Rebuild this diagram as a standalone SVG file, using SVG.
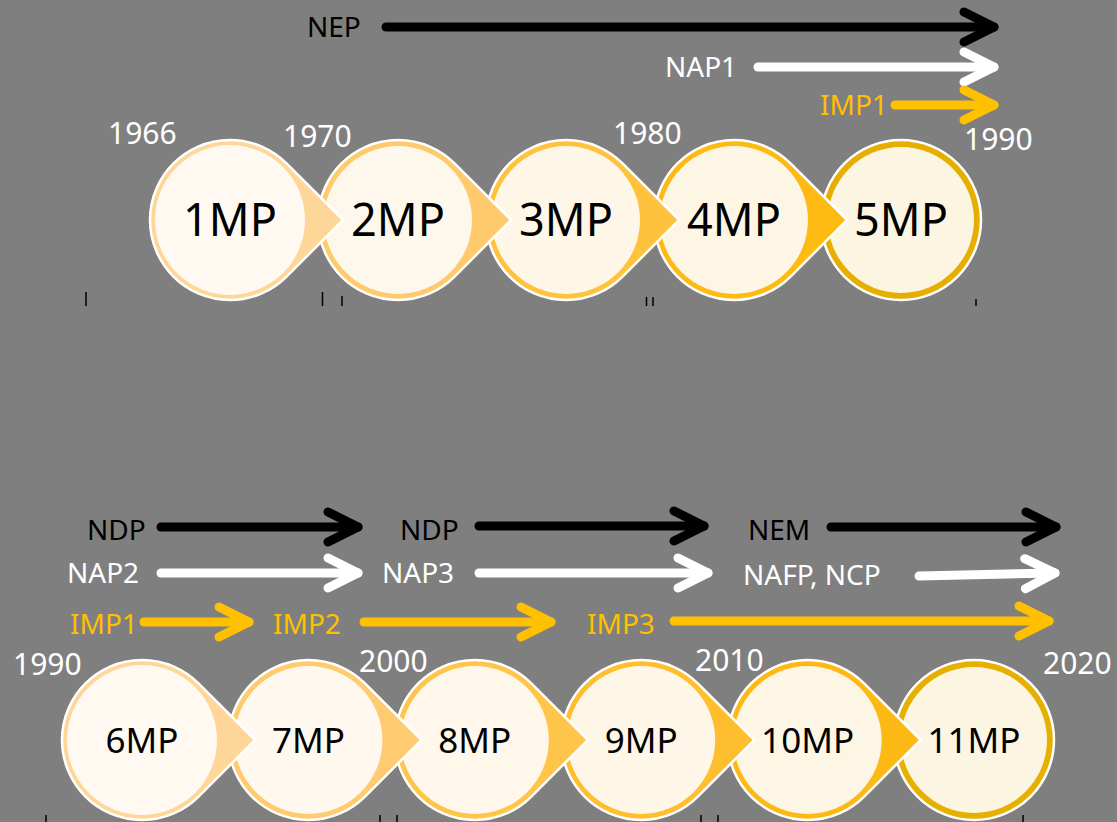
<svg xmlns="http://www.w3.org/2000/svg" xmlns:xlink="http://www.w3.org/1999/xlink" width="1117" height="822" viewBox="0 0 1117 822">
<style>
.tear{stroke:#FFFFFF;stroke-width:2.5;stroke-linejoin:miter}
.mp{font-family:"Noto Sans","Open Sans",sans-serif;fill:#000;text-anchor:middle}
.big{font-size:45px}
.small{font-size:35px}
.yr{font-family:"Noto Sans","Open Sans",sans-serif;font-size:30px;fill:#FFFFFF}
.lbl{font-family:"Noto Sans","Open Sans",sans-serif;font-size:28px}
.k{fill:#000}
.w{fill:#FFFFFF}
.y{fill:#FFC000}
.ar{fill:none;stroke-width:9;stroke-linecap:round;stroke-linejoin:round}
.tick{stroke:#000;stroke-width:1.5}
</style>
<defs>
<path id="tear" d="M 113.14 0 L 56.57 -56.57 A 80 80 0 1 0 56.57 56.57 Z"/>
<circle id="round" cx="0" cy="0" r="80"/>
<marker id="hk" markerUnits="userSpaceOnUse" markerWidth="50" markerHeight="50" refX="40" refY="25" orient="auto"><path d="M10 10 L40 25 L10 40" fill="none" stroke="#000" stroke-width="9" stroke-linecap="round" stroke-linejoin="round"/></marker>
<marker id="hw" markerUnits="userSpaceOnUse" markerWidth="50" markerHeight="50" refX="40" refY="25" orient="auto"><path d="M10 10 L40 25 L10 40" fill="none" stroke="#FFF" stroke-width="9" stroke-linecap="round" stroke-linejoin="round"/></marker>
<marker id="hy" markerUnits="userSpaceOnUse" markerWidth="50" markerHeight="50" refX="40" refY="25" orient="auto"><path d="M10 10 L40 25 L10 40" fill="none" stroke="#FFC000" stroke-width="9" stroke-linecap="round" stroke-linejoin="round"/></marker>
</defs>
<rect width="1117" height="822" fill="#7F7F7F"/>

<!-- top row: drawn right to left so pointers overlap the next circle -->
<g id="n5MP" transform="translate(901,220)"><use xlink:href="#round" class="tear" fill="#E5AE00"/><circle r="73" fill="#FBF5E2"/><text class="mp big" y="16">5MP</text></g>
<g id="n4MP" transform="translate(734,220)"><use xlink:href="#tear" class="tear" fill="#FDBA12"/><circle r="74" fill="#FDF6E4"/><text class="mp big" y="16">4MP</text></g>
<g id="n3MP" transform="translate(566,220)"><use xlink:href="#tear" class="tear" fill="#FFC23D"/><circle r="74" fill="#FEF7E8"/><text class="mp big" y="16">3MP</text></g>
<g id="n2MP" transform="translate(398,220)"><use xlink:href="#tear" class="tear" fill="#FFCA6C"/><circle r="74" fill="#FEF7EC"/><text class="mp big" y="16">2MP</text></g>
<g id="n1MP" transform="translate(230,220)"><use xlink:href="#tear" class="tear" fill="#FED798"/><circle r="75" fill="#FFF9F2"/><text class="mp big" y="16">1MP</text></g>

<!-- bottom row -->
<g id="n11MP" transform="translate(974,740)"><use xlink:href="#round" class="tear" fill="#E6B000"/><circle r="73" fill="#FBF5E2"/><text class="mp small" y="12.5">11MP</text></g>
<g id="n10MP" transform="translate(807.6,740)"><use xlink:href="#tear" class="tear" fill="#FDB913"/><circle r="74" fill="#FDF6E4"/><text class="mp small" y="12.5">10MP</text></g>
<g id="n9MP" transform="translate(641.2,740)"><use xlink:href="#tear" class="tear" fill="#FEBE2E"/><circle r="74" fill="#FEF7E7"/><text class="mp small" y="12.5">9MP</text></g>
<g id="n8MP" transform="translate(474.8,740)"><use xlink:href="#tear" class="tear" fill="#FFC44A"/><circle r="74" fill="#FEF7EA"/><text class="mp small" y="12.5">8MP</text></g>
<g id="n7MP" transform="translate(308.4,740)"><use xlink:href="#tear" class="tear" fill="#FFCB70"/><circle r="74" fill="#FEF8EE"/><text class="mp small" y="12.5">7MP</text></g>
<g id="n6MP" transform="translate(142,740)"><use xlink:href="#tear" class="tear" fill="#FED798"/><circle r="75" fill="#FFF9F2"/><text class="mp small" y="12.5">6MP</text></g>

<!-- years -->
<g id="years">
<text class="yr" x="108" y="144">1966</text>
<text class="yr" x="283" y="147">1970</text>
<text class="yr" x="613" y="144">1980</text>
<text class="yr" x="964" y="150">1990</text>
<text class="yr" x="13" y="675">1990</text>
<text class="yr" x="359" y="672">2000</text>
<text class="yr" x="695" y="671">2010</text>
<text class="yr" x="1043" y="674">2020</text>
</g>

<!-- ticks -->
<g id="ticks">
<line class="tick" x1="86" y1="292" x2="86" y2="306"/>
<line class="tick" x1="322.5" y1="292" x2="322.5" y2="306"/>
<line class="tick" x1="342" y1="296" x2="342" y2="306"/>
<line class="tick" x1="646.5" y1="297" x2="646.5" y2="306"/>
<line class="tick" x1="653" y1="297" x2="653" y2="306"/>
<line class="tick" x1="976" y1="299" x2="976" y2="306"/>
<line class="tick" x1="46" y1="815" x2="46" y2="822"/>
<line class="tick" x1="380" y1="815" x2="380" y2="822"/>
<line class="tick" x1="397" y1="815" x2="397" y2="822"/>
<line class="tick" x1="701" y1="815" x2="701" y2="822"/>
<line class="tick" x1="718" y1="815" x2="718" y2="822"/>
<line class="tick" x1="1023" y1="815" x2="1023" y2="822"/>
</g>

<!-- connector labels -->
<g id="labels">
<text class="lbl k" x="307" y="37">NEP</text>
<text class="lbl w" x="665" y="77">NAP1</text>
<text class="lbl y" x="820" y="115">IMP1</text>
<text class="lbl k" x="87" y="540">NDP</text>
<text class="lbl w" x="67" y="583">NAP2</text>
<text class="lbl y" x="70" y="634">IMP1</text>
<text class="lbl k" x="400" y="540">NDP</text>
<text class="lbl w" x="382" y="583">NAP3</text>
<text class="lbl y" x="273" y="634">IMP2</text>
<text class="lbl k" x="748" y="540">NEM</text>
<text class="lbl w" x="743" y="585">NAFP, NCP</text>
<text class="lbl y" x="587" y="634">IMP3</text>
</g>

<!-- connectors -->
<g id="connectors">
<path class="ar" stroke="#000" marker-end="url(#hk)" d="M386 27 L994 27"/>
<path class="ar" stroke="#FFF" marker-end="url(#hw)" d="M758 67 L994 67"/>
<path class="ar" stroke="#FFC000" marker-end="url(#hy)" d="M895 105 L994 105"/>
<path class="ar" stroke="#000" marker-end="url(#hk)" d="M161 527 L358 527"/>
<path class="ar" stroke="#000" marker-end="url(#hk)" d="M479 526 L704 526"/>
<path class="ar" stroke="#000" marker-end="url(#hk)" d="M831 527 L1056 527"/>
<path class="ar" stroke="#FFF" marker-end="url(#hw)" d="M161 573 L358 573"/>
<path class="ar" stroke="#FFF" marker-end="url(#hw)" d="M479 573 L708 573"/>
<path class="ar" stroke="#FFF" marker-end="url(#hw)" d="M919 576 L1055 573"/>
<path class="ar" stroke="#FFC000" marker-end="url(#hy)" d="M144 622 L249 622"/>
<path class="ar" stroke="#FFC000" marker-end="url(#hy)" d="M364 622 L551 622"/>
<path class="ar" stroke="#FFC000" marker-end="url(#hy)" d="M674 621 L1049 621"/>
</g>
</svg>
